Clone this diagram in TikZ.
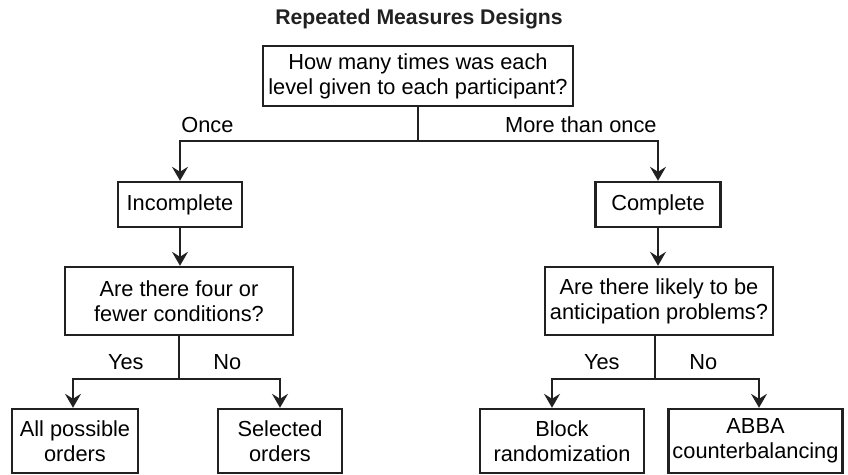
\documentclass[tikz,border=0pt]{standalone}
\usepackage{fontspec}
\setmainfont{Liberation Sans}
\usetikzlibrary{arrows.meta}
\tikzset{%
  box/.style={draw=ink,line width=1.2pt,align=center,inner sep=2pt,
    minimum width=#1,font=\fontsize{10.9}{12.5}\selectfont},
  box/.default=60pt,
  link/.style={draw=ink,line width=0.8pt},
  arr/.style={link,-{Stealth[length=7pt,width=8pt,inset=2.5pt]}},
  lbl/.style={inner sep=0pt,font=\fontsize{10.9}{12.5}\selectfont}
}
\definecolor{ink}{rgb}{0.13,0.13,0.13}
\begin{document}
\begin{tikzpicture}[x=0.5pt,y=-0.5pt]
  \useasboundingbox (0,0) rectangle (848,475);
  % Title
  \node[font=\fontsize{10.6}{12}\selectfont\bfseries,text=ink] (t0) at (419,19) {Repeated Measures Designs};
  % Boxes
  \node[box=155pt,minimum height=30pt] (r0) at (418,76) {How many times was each\\level given to each participant?};
  \node[box=62pt,minimum height=22.5pt] (l1) at (180,204.5) {Incomplete};
  \node[box=114pt,minimum height=34pt] (l2) at (179,301) {Are there four or\\fewer conditions?};
  \node[box=62.5pt,minimum height=22.5pt] (r1) at (658,204.5) {Complete};
  \node[box=114pt,minimum height=34pt] (r2) at (659,301) {Are there likely to be\\anticipation problems?};
  \node[box=63pt,minimum height=32pt] (l3) at (75,441) {All possible\\orders};
  \node[box=62pt,minimum height=32pt] (l4) at (280,441) {Selected\\orders};
  \node[box=82pt,minimum height=32pt] (r3) at (562,441) {Block\\randomization};
  \node[box=84.5pt,minimum height=32pt] (r4) at (755.5,441) {ABBA\\counterbalancing};
  % Split points
  \coordinate (s0) at (418,141);
  \coordinate (s1) at (179,379);
  \coordinate (s2) at (655,379);
  % Connectors
  \draw[link] (r0) -- (s0);
  \draw[arr] (s0) -| (l1);
  \draw[arr] (s0) -| (r1);
  \draw[arr] (l1) -- (l2.north -| l1);
  \draw[arr] (r1) -- (r2.north -| r1);
  \draw[link] (l2) -- (s1);
  \draw[link] (r2.south -| s2) -- (s2);
  \draw[arr] (s1) -| (l3.north -| 73,0);
  \draw[arr] (s1) -| (l4.north -| 280,0);
  \draw[arr] (s2) -| (r3.north -| 552,0);
  \draw[arr] (s2) -| (r4.north -| 759,0);
  % Labels
  \node[lbl,anchor=base west] (e0) at (181,133) {Once};
  \node[lbl,anchor=base east] (e1) at (657,133) {More than once};
  \node[lbl,anchor=base east] (e2) at (144,370) {Yes};
  \node[lbl,anchor=base west] (e3) at (213,370) {No};
  \node[lbl,anchor=base east] (e4) at (620,370) {Yes};
  \node[lbl,anchor=base west] (e5) at (689,370) {No};
\end{tikzpicture}
\end{document}
